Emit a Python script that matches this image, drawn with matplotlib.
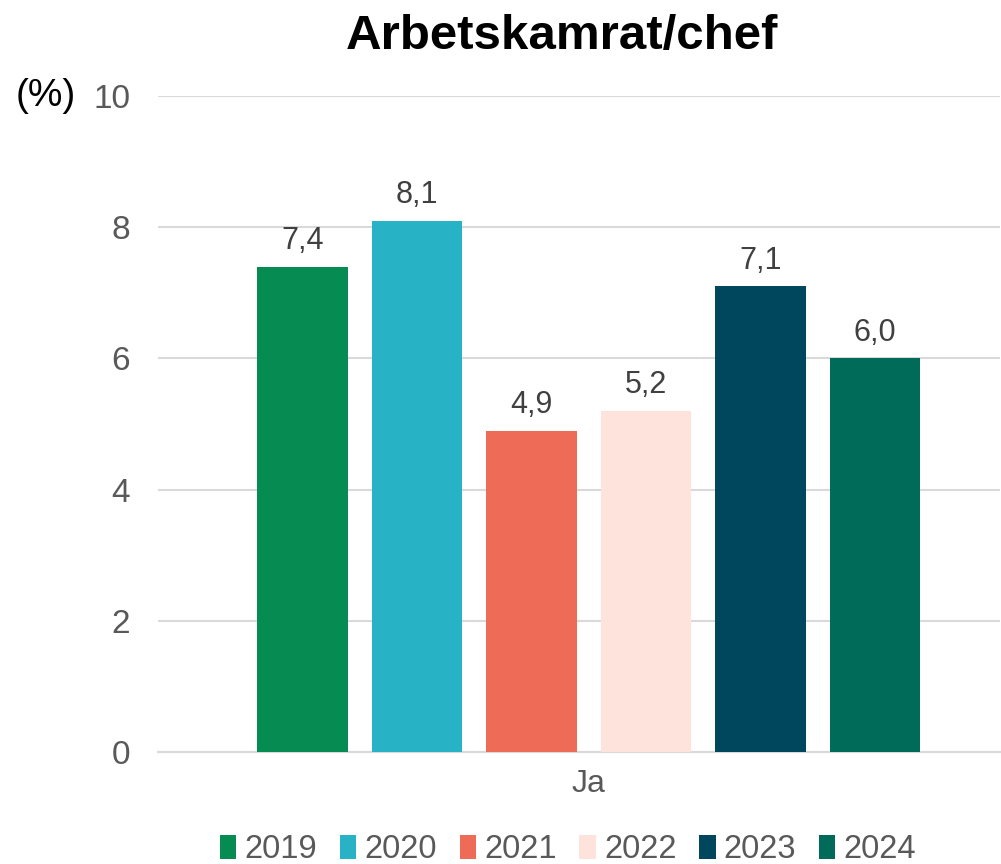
import numpy as np
import matplotlib.pyplot as plt
from matplotlib.patches import Patch

plt.rcParams["font.family"] = ["Liberation Sans", "DejaVu Sans"]

years = ["2019", "2020", "2021", "2022", "2023", "2024"]
values = [7.4, 8.1, 4.9, 5.2, 7.1, 6.0]
colors = ["#068B52", "#27B2C5", "#EE6B57", "#FDE3DC", "#00475E", "#006B58"]
category = "Ja"
title = "Arbetskamrat/chef"

fig = plt.figure(figsize=(10.01, 8.64), dpi=100)
ax = fig.add_axes([158 / 1001, 1 - 752 / 864, (1000 - 158) / 1001, (752 - 96) / 864])

x = np.arange(len(years))
bars = ax.bar(x, values, width=0.79, color=colors, zorder=3)
for xi, v in zip(x, values):
    ax.text(xi, v + 0.16, f"{v:.1f}".replace(".", ","), ha="center", va="bottom",
            fontsize=22, color="#404040")

ax.set_xlim(-1.261, 6.09)
ax.set_ylim(0, 10)
ax.set_yticks(range(0, 11, 2))
ax.yaxis.grid(True, color="#D9D9D9", linewidth=1.5, zorder=0)
ax.tick_params(axis="y", length=0, pad=20, labelsize=24, labelcolor="#595959")
ax.set_xticks([2.5])
ax.set_xticklabels([category])
ax.tick_params(axis="x", length=0, pad=12, labelsize=23, labelcolor="#595959")
for s in ["top", "right", "left"]:
    ax.spines[s].set_visible(False)
ax.spines["bottom"].set_color("#D9D9D9")
ax.spines["bottom"].set_linewidth(1.5)

fig.text(562 / 1001, 1 - 36 / 864, title, ha="center", va="center",
         fontsize=35.5, fontweight="bold", color="black")
fig.text(46 / 1001, 1 - 96 / 864, "(%)", ha="center", va="center",
         fontsize=28, color="black")

handles = [Patch(facecolor=c, label=y) for c, y in zip(colors, years)]
fig.legend(handles=handles, loc="center", bbox_to_anchor=(568 / 1001, 1 - 850 / 864),
           ncol=6, frameon=False, fontsize=23.5, handlelength=0.5, handleheight=0.75,
           handletextpad=0.25, columnspacing=0.7, labelcolor="#595959",
           borderaxespad=0, borderpad=0)

fig.savefig("out.png", dpi=100)
